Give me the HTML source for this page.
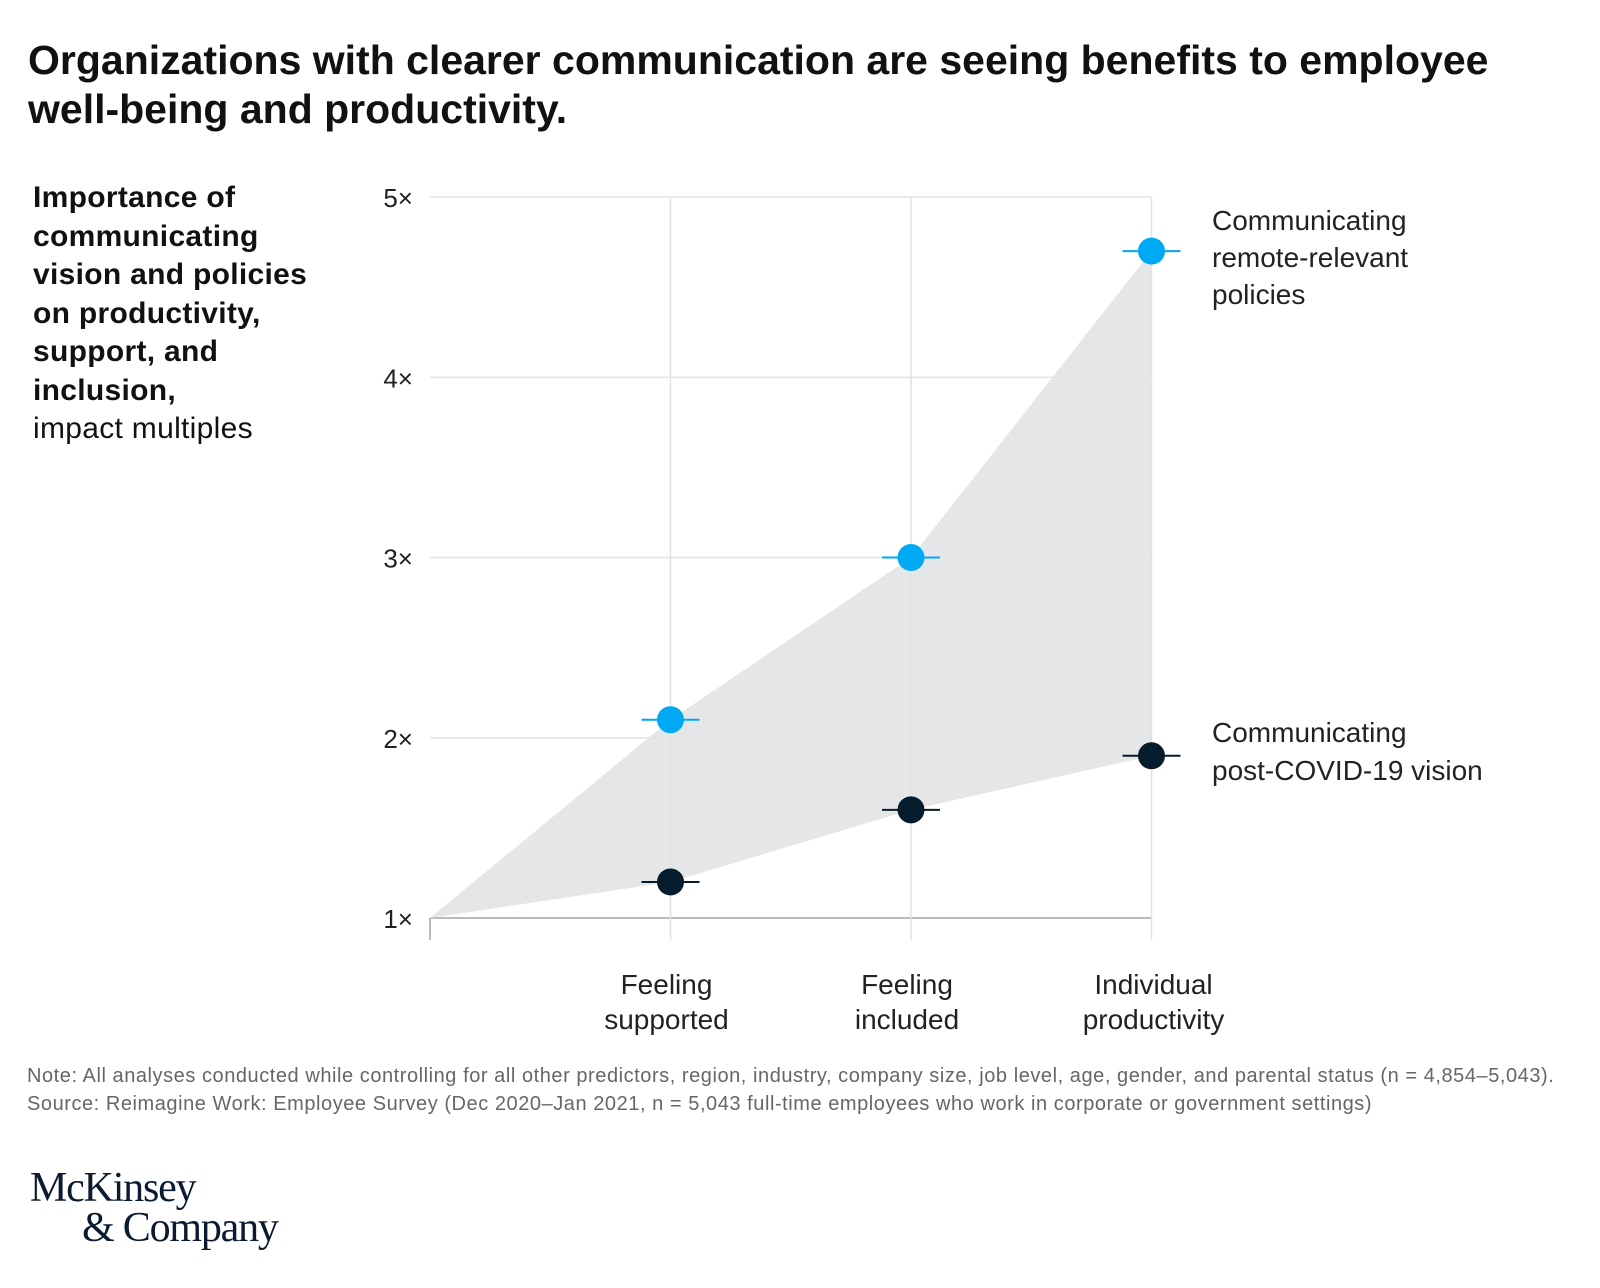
<!DOCTYPE html>
<html><head><meta charset="utf-8"><style>
body{margin:0;width:1600px;height:1288px;background:#fff;font-family:"Liberation Sans",sans-serif;overflow:hidden;position:relative;color:#000}
.t{position:absolute;white-space:nowrap}
</style></head><body>
<div class="t" style="left:28px;top:36px;font-size:41px;font-weight:bold;line-height:49px;color:#111">Organizations with clearer communication are seeing benefits to employee<br>well-being and productivity.</div>
<div class="t" style="left:33px;top:179px;font-size:30px;line-height:38.5px;color:#111;letter-spacing:0.3px"><b>Importance of<br>communicating<br>vision and policies<br>on productivity,<br>support, and<br>inclusion,</b><br>impact multiples</div>
<svg id="c" width="1600" height="1288" style="position:absolute;left:0;top:0"></svg>
<div class="t" style="left:1212px;top:202px;font-size:28px;line-height:37px;color:#222">Communicating<br>remote-relevant<br>policies</div>
<div class="t" style="left:1212px;top:714px;font-size:28px;line-height:38px;color:#222">Communicating<br>post-COVID-19 vision</div>
<div class="t" style="left:27px;top:1062px;font-size:20px;line-height:28px;color:#666;letter-spacing:0.55px">Note: All analyses conducted while controlling for all other predictors, region, industry, company size, job level, age, gender, and parental status (n = 4,854–5,043).<br>Source: Reimagine Work: Employee Survey (Dec 2020–Jan 2021, n = 5,043 full-time employees who work in corporate or government settings)</div>
<div class="t" style="left:30px;top:1168px;font-family:'Liberation Serif',serif;font-size:42px;line-height:40px;color:#0a1a30;letter-spacing:-1.2px">McKinsey<br><span style="margin-left:52px">&amp; Company</span></div>
<script>
const categories=["Feeling supported","Feeling included","Individual productivity"];
const remote=[2.1,3.0,4.7];
const vision=[1.2,1.6,1.9];
const yTicks=[1,2,3,4,5];
const yTickLabels=["1×","2×","3×","4×","5×"];
const svg=document.getElementById('c');
const NS='http://www.w3.org/2000/svg';
const x0=430,dx=240.5,yTop=197,yBot=918;
const X=i=>x0+dx*(i+1);
const Y=v=>yBot-(v-1)/4*(yBot-yTop);
function mk(t,a){const e=document.createElementNS(NS,t);for(const k in a)e.setAttribute(k,a[k]);svg.appendChild(e);return e;}
yTicks.forEach((v,i)=>{
 const g=mk('line',{x1:x0,x2:X(2),y1:Y(v),y2:Y(v),stroke:i==0?'#bbb':'#e4e4e4','stroke-width':i==0?2:1.5});
 
 
 const t=mk('text',{x:413,y:Y(v)+10,'text-anchor':'end','font-size':26,fill:'#222','font-family':'Liberation Sans, sans-serif'});
 t.textContent=yTickLabels[i];
 
 
});
const ax=mk('line',{x1:x0,x2:x0,y1:yBot,y2:yBot+22,stroke:'#bbb','stroke-width':2});


categories.forEach((c,i)=>{
 const g=mk('line',{x1:X(i),x2:X(i),y1:yTop,y2:yBot+22,stroke:'#e2e2e2','stroke-width':1.5});
 
 
 const w=c.split(' ');
 w.forEach((s,j)=>{const t=mk('text',{x:X(i)-4+(i==2?6:0),y:994+j*35,'text-anchor':'middle','font-size':28,fill:'#222','font-family':'Liberation Sans, sans-serif'});t.textContent=s;
 
 });
});
let pts=[[x0,Y(1)]];remote.forEach((v,i)=>pts.push([X(i),Y(v)]));
for(let i=vision.length-1;i>=0;i--)pts.push([X(i),Y(vision[i])]);
const area=mk('polygon',{points:pts.map(p=>p.join(',')).join(' '),fill:'#e5e6e8'});


svg.insertBefore(area,svg.firstChild.nextSibling);
function series(arr,col,name){arr.forEach((v,i)=>{
 const l=mk('line',{x1:X(i)-29,x2:X(i)+29,y1:Y(v),y2:Y(v),stroke:col,'stroke-width':2});
 
 
 const c=mk('circle',{cx:X(i),cy:Y(v),r:13.5,fill:col});
 
 
});}
series(remote,'#00a9f4','remote-policies');
series(vision,'#051c2c','covid-vision');
</script>
</body></html>
